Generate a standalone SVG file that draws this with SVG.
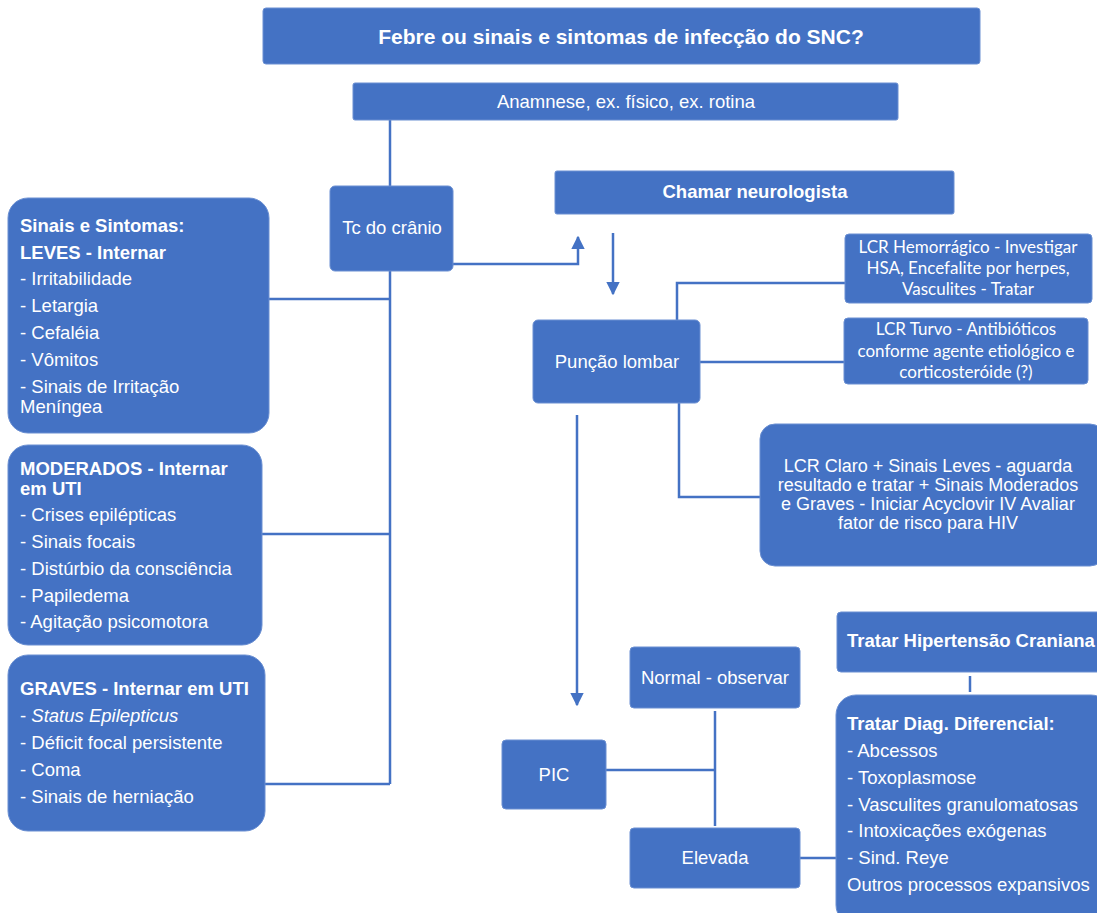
<svg xmlns="http://www.w3.org/2000/svg" width="1097" height="913" viewBox="0 0 1097 913">
<defs>
<marker id="ah" viewBox="0 0 10 10" refX="9" refY="5" markerWidth="5.5" markerHeight="5.5" orient="auto" markerUnits="strokeWidth"><path d="M0,0 L10,5 L0,10 z" fill="#4472C4"/></marker>
<style>
.box{fill:#4472C4;stroke:#6a8fd2;stroke-width:1}
.t{font-family:"Liberation Sans",Arial,sans-serif;fill:#fff;font-size:18.5px}
.b{font-weight:bold}
.c{text-anchor:middle}
.k{font-family:Lato,"Noto Sans",sans-serif;fill:#fff;font-size:17px;text-anchor:middle}
.ln{fill:none;stroke:#4472C4;stroke-width:2.5}
</style>
</defs>
<g id="connectors">
<path class="ln" d="M390,120 V186"/>
<path class="ln" d="M390,271 V784"/>
<path class="ln" d="M269,299 H390"/>
<path class="ln" d="M262,534 H390"/>
<path class="ln" d="M265,784 H390"/>
<path class="ln" d="M453,264 H578 V237" marker-end="url(#ah)"/>
<path class="ln" d="M613,233 V294" marker-end="url(#ah)"/>
<path class="ln" d="M677,320 V283 H845"/>
<path class="ln" d="M700,362 H844"/>
<path class="ln" d="M679,403 V497 H760"/>
<path class="ln" d="M577,415 V705" marker-end="url(#ah)"/>
<path class="ln" d="M715,711 V826"/>
<path class="ln" d="M606,770 H715"/>
<path class="ln" d="M800,858 H836"/>
<path class="ln" d="M970,676 V692"/>
</g>
<g id="n-title"><rect class="box" x="263" y="8" width="717" height="56" rx="3"/><text class="t b c" x="621" y="44" style="font-size:21px">Febre ou sinais e sintomas de infecção do SNC?</text></g>
<g id="n-anamnese"><rect class="box" x="353" y="83" width="545" height="37" rx="2"/><text class="t c" x="626" y="108">Anamnese, ex. físico, ex. rotina</text></g>
<g id="n-tc"><rect class="box" x="330" y="186" width="123" height="85" rx="5"/><text class="t c" x="392" y="234">Tc do crânio</text></g>
<g id="n-neuro"><rect class="box" x="555" y="171" width="399" height="43" rx="2"/><text class="t b c" x="755" y="198">Chamar neurologista</text></g>
<g id="n-puncao"><rect class="box" x="533" y="320" width="167" height="83" rx="5"/><text class="t c" x="617" y="368">Punção lombar</text></g>
<g id="n-leves"><rect class="box" x="8" y="198" width="261" height="235" rx="20"/>
<text class="t"><tspan class="b" x="20" y="232">Sinais e Sintomas:</tspan><tspan class="b" x="20" y="259">LEVES - Internar</tspan><tspan x="20" y="285">- Irritabilidade</tspan><tspan x="20" y="312">- Letargia</tspan><tspan x="20" y="339">- Cefaléia</tspan><tspan x="20" y="366">- Vômitos</tspan><tspan x="20" y="393">- Sinais de Irritação</tspan><tspan x="20" y="413">Meníngea</tspan></text></g>
<g id="n-moderados"><rect class="box" x="8" y="445" width="254" height="200" rx="20"/>
<text class="t"><tspan class="b" x="20" y="475">MODERADOS - Internar</tspan><tspan class="b" x="20" y="495">em UTI</tspan><tspan x="20" y="521">- Crises epilépticas</tspan><tspan x="20" y="548">- Sinais focais</tspan><tspan x="20" y="575">- Distúrbio da consciência</tspan><tspan x="20" y="602">- Papiledema</tspan><tspan x="20" y="628">- Agitação psicomotora</tspan></text></g>
<g id="n-graves"><rect class="box" x="8" y="655" width="257" height="176" rx="20"/>
<text class="t"><tspan class="b" x="20" y="695">GRAVES - Internar em UTI</tspan><tspan x="20" y="722">- <tspan font-style="italic">Status Epilepticus</tspan></tspan><tspan x="20" y="749">- Déficit focal persistente</tspan><tspan x="20" y="776">- Coma</tspan><tspan x="20" y="803">- Sinais de herniação</tspan></text></g>
<g id="n-hemorragico"><rect class="box" x="845" y="234" width="247" height="69" rx="4"/>
<text class="k"><tspan x="968" y="253">LCR Hemorrágico - Investigar</tspan><tspan x="968" y="274">HSA, Encefalite por herpes,</tspan><tspan x="968" y="295">Vasculites - Tratar</tspan></text></g>
<g id="n-turvo"><rect class="box" x="844" y="318" width="244" height="66" rx="4"/>
<text class="k"><tspan x="966" y="335">LCR Turvo - Antibióticos</tspan><tspan x="966" y="357">conforme agente etiológico e</tspan><tspan x="966" y="378">corticosteróide (?)</tspan></text></g>
<g id="n-claro"><rect class="box" x="760" y="424" width="345" height="142" rx="15"/>
<text class="t c" style="font-size:18px"><tspan x="928" y="472">LCR Claro + Sinais Leves - aguarda</tspan><tspan x="928" y="491">resultado e tratar + Sinais Moderados</tspan><tspan x="928" y="510">e Graves - Iniciar Acyclovir IV Avaliar</tspan><tspan x="928" y="529">fator de risco para HIV</tspan></text></g>
<g id="n-pic"><rect class="box" x="502" y="740" width="104" height="69" rx="4"/><text class="t c" x="554" y="781">PIC</text></g>
<g id="n-normal"><rect class="box" x="630" y="647" width="170" height="61" rx="4"/><text class="t c" x="715" y="684">Normal - observar</text></g>
<g id="n-elevada"><rect class="box" x="630" y="828" width="170" height="60" rx="4"/><text class="t c" x="715" y="864">Elevada</text></g>
<g id="n-hipertensao"><rect class="box" x="837" y="612" width="270" height="60" rx="4"/><text class="t b" x="847" y="647">Tratar Hipertensão Craniana</text></g>
<g id="n-diferencial"><rect class="box" x="836" y="695" width="275" height="230" rx="20"/>
<text class="t"><tspan class="b" x="847" y="730">Tratar Diag. Diferencial:</tspan><tspan x="847" y="757">- Abcessos</tspan><tspan x="847" y="784">- Toxoplasmose</tspan><tspan x="847" y="811">- Vasculites granulomatosas</tspan><tspan x="847" y="837">- Intoxicações exógenas</tspan><tspan x="847" y="864">- Sind. Reye</tspan><tspan x="847" y="891">Outros processos expansivos</tspan></text></g>
</svg>
